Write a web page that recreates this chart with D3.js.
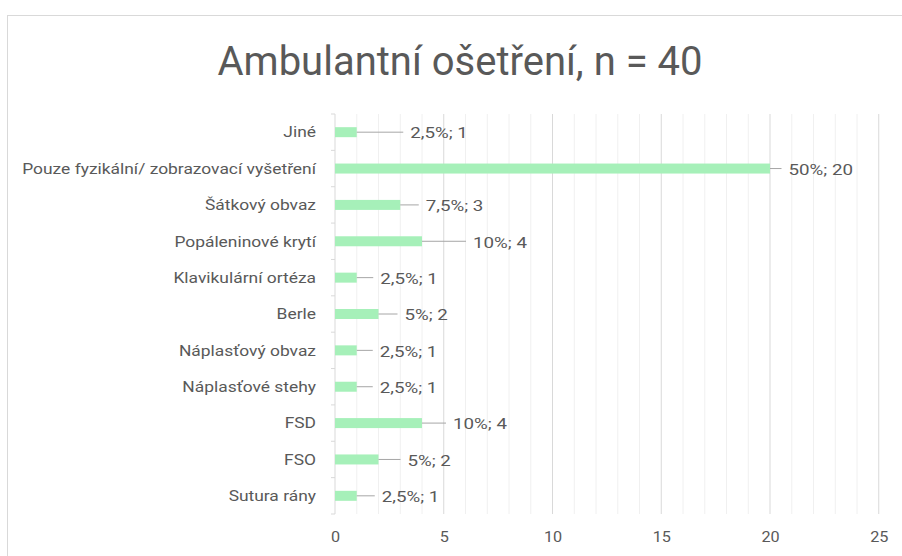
<!DOCTYPE html>
<html>
<head>
<meta charset="utf-8">
<script src="https://cdn.jsdelivr.net/npm/d3@7"></script>
<style>
  html, body { margin: 0; padding: 0; background: #fff; }
  svg { display: block; }
  text { font-family: Roboto, "Liberation Sans", sans-serif; fill: #595959; }
</style>
</head>
<body>
<svg id="chart" width="902" height="556"></svg>
<script>
const title = "Ambulantní ošetření, n = 40";
const categories = [
  "Jiné",
  "Pouze fyzikální/ zobrazovací vyšetření",
  "Šátkový obvaz",
  "Popáleninové krytí",
  "Klavikulární ortéza",
  "Berle",
  "Náplasťový obvaz",
  "Náplasťové stehy",
  "FSD",
  "FSO",
  "Sutura rány"
];
const counts = [1, 20, 3, 4, 1, 2, 1, 1, 4, 2, 1];
const percentLabels = ["2,5%", "50%", "7,5%", "10%", "2,5%", "5%", "2,5%", "2,5%", "10%", "5%", "2,5%"];
const xTicks = [0, 5, 10, 15, 20, 25];

// layout (leader line lengths in px, as placed in the original callouts)
const leaderLen = [46.5, 11.5, 18.5, 44, 16.5, 19, 16, 16, 24, 22, 18];
// horizontal stretch of the label font (original font is wider than Roboto)
const catStretch = 1.16;
const valStretch = 1.25;
const tickStretch = 1.08;

const svg = d3.select("#chart");
const plot = { left: 335, right: 878.75, top: 114, bottom: 514 };

// chart border
svg.append("rect")
  .attr("x", 7.5).attr("y", 15.5)
  .attr("width", 1000).attr("height", 1000)
  .attr("fill", "none").attr("stroke", "#d9d9d9").attr("stroke-width", 1);

// title
svg.append("text")
  .attr("x", 460).attr("y", 74.5)
  .attr("text-anchor", "middle")
  .style("font-size", "40px")
  .text(title);

const x = d3.scaleLinear().domain([0, 25]).range([plot.left, plot.right]);
const yBand = d3.scaleBand().domain(categories).range([plot.top, plot.bottom]).padding(0);
const yBar = d3.scaleBand().domain(categories).range([plot.top, plot.bottom])
  .paddingInner(0.725).paddingOuter(0.3625);
const yMid = d => yBand(d) + yBand.bandwidth() / 2;

// minor gridlines
svg.append("g").selectAll("line")
  .data(d3.range(1, 26).filter(v => v % 5 !== 0))
  .join("line")
  .attr("x1", d => x(d)).attr("x2", d => x(d))
  .attr("y1", plot.top).attr("y2", plot.bottom)
  .attr("stroke", "#f0f0f0").attr("stroke-width", 1);

// major gridlines
svg.append("g").selectAll("line")
  .data(xTicks.filter(v => v > 0))
  .join("line")
  .attr("x1", d => x(d)).attr("x2", d => x(d))
  .attr("y1", plot.top).attr("y2", plot.bottom)
  .attr("stroke", "#d9d9d9").attr("stroke-width", 1);

// x axis (labels only)
const xAxis = d3.axisBottom(x).tickValues(xTicks).tickSize(0).tickPadding(0);
const gx = svg.append("g").attr("transform", `translate(0,${plot.bottom})`).call(xAxis);
gx.select(".domain").remove();
gx.selectAll("text")
  .attr("y", 0).attr("dy", "0.35em")
  .attr("transform", `translate(0,22.5) scale(${tickStretch},1)`)
  .style("font-size", "15px").style("font-family", "Roboto, sans-serif").attr("fill", "#595959");

// category axis line and ticks
svg.append("line")
  .attr("x1", plot.left).attr("x2", plot.left)
  .attr("y1", plot.top).attr("y2", plot.bottom)
  .attr("stroke", "#d9d9d9");
const boundaries = categories.map(c => yBand(c)).concat([plot.bottom]);
svg.append("g").selectAll("line")
  .data(boundaries)
  .join("line")
  .attr("x1", plot.left - 4).attr("x2", plot.left)
  .attr("y1", d => d).attr("y2", d => d)
  .attr("stroke", "#d9d9d9");

// category labels
svg.append("g").selectAll("text")
  .data(categories)
  .join("text")
  .attr("transform", d => `translate(316,${yMid(d)}) scale(${catStretch},1)`)
  .attr("dy", "0.35em")
  .attr("text-anchor", "end")
  .style("font-size", "15px")
  .text(d => d);

// bars
svg.append("g").selectAll("rect")
  .data(categories)
  .join("rect")
  .attr("x", x(0))
  .attr("y", d => yBar(d))
  .attr("width", (d, i) => x(counts[i]) - x(0))
  .attr("height", yBar.bandwidth())
  .attr("fill", "#a6f0b9");

// leader lines
svg.append("g").selectAll("line")
  .data(categories)
  .join("line")
  .attr("x1", (d, i) => x(counts[i]))
  .attr("x2", (d, i) => x(counts[i]) + leaderLen[i])
  .attr("y1", d => yMid(d))
  .attr("y2", d => yMid(d))
  .attr("stroke", "#a6a6a6").attr("stroke-width", 1);

// value labels
svg.append("g").selectAll("text")
  .data(categories)
  .join("text")
  .attr("transform", (d, i) => `translate(${x(counts[i]) + leaderLen[i] + 7},${yMid(d) + 1}) scale(${valStretch},1)`)
  .attr("dy", "0.35em")
  .style("font-size", "15px")
  .text((d, i) => `${percentLabels[i]}; ${counts[i]}`);
</script>
</body>
</html>
